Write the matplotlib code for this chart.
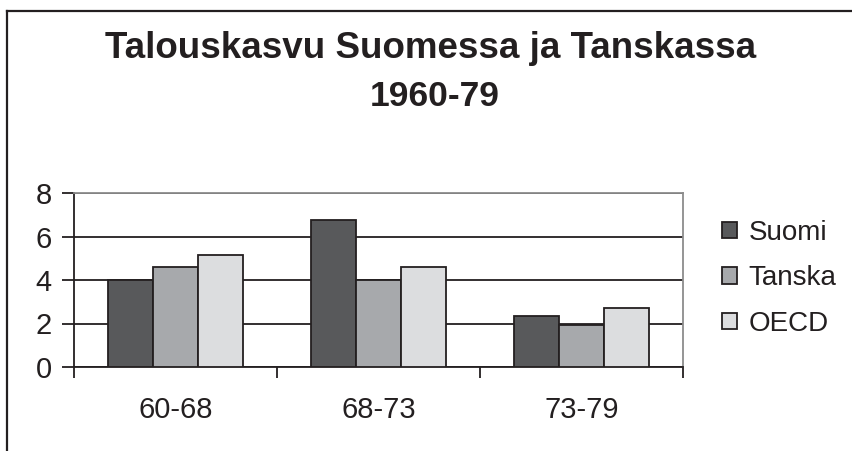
import numpy as np
import matplotlib
matplotlib.use("Agg")
import matplotlib.pyplot as plt
from matplotlib.lines import Line2D
from matplotlib.patches import Patch

plt.rcParams['font.family'] = ['Liberation Sans', 'DejaVu Sans']

# data
periods = ['60-68', '68-73', '73-79']
series = ['Suomi', 'Tanska', 'OECD']
suomi = [4.0, 6.75, 2.35]
tanska = [4.6, 4.0, 1.95]
oecd = [5.15, 4.6, 2.7]
colors = ['#58595b', '#a7a9ac', '#dcdddf']

values = [suomi, tanska, oecd]

fig = plt.figure(figsize=(8.52, 4.51), dpi=100)
W, H = 852, 451

# outer chart border (cropped: only left and top visible)
fig.add_artist(Line2D([6.5 / W, 6.5 / W], [0, 1 - 10.5 / H], color='#231f20', lw=1.6))
fig.add_artist(Line2D([6.5 / W, 1], [1 - 10.5 / H, 1 - 10.5 / H], color='#231f20', lw=1.6))

ax = fig.add_axes([74 / W, 84 / H, (683 - 74) / W, (367 - 193) / H])

x = np.arange(len(periods))
w = 0.223
for j, (name, vals) in enumerate(zip(series, values)):
    ax.bar(x + (j - 1) * w, vals, width=w, color=colors[j], edgecolor='#231f20',
           linewidth=1.3, label=name, zorder=3)

ax.set_xlim(-0.5, 2.5)
ax.set_ylim(0, 8)
ax.set_yticks([0, 2, 4, 6, 8])
ax.yaxis.grid(True, color='#231f20', linewidth=1.3, zorder=0)
ax.set_axisbelow(True)

ax.set_xticks(x)
ax.set_xticklabels(periods)
ax.set_xticks([-0.5, 0.5, 1.5, 2.5], minor=True)
ax.tick_params(axis='x', which='major', length=0, pad=21, labelsize=21, colors='#231f20')
ax.tick_params(axis='x', which='minor', length=8, width=1.3, color='#231f20', direction='out')
ax.tick_params(axis='y', length=9, width=1.3, color='#231f20', pad=7, labelsize=21,
               labelcolor='#231f20')

for s in ['left', 'bottom']:
    ax.spines[s].set_color('#231f20')
    ax.spines[s].set_linewidth(1.3)
for s in ['top', 'right']:
    ax.spines[s].set_color('#8c8c8c')
    ax.spines[s].set_linewidth(1.3)

handles = [Patch(facecolor=c, edgecolor='#231f20', linewidth=1.3) for c in colors]
fig.legend(handles, series, loc='upper left', bbox_to_anchor=(708 / W, 1 - 206 / H),
           frameon=False, fontsize=20, handlelength=0.55, handleheight=0.55,
           handletextpad=0.4, labelspacing=0.7, borderpad=0, labelcolor='#231f20')

fig.text(431 / W, 1 - 49 / H, 'Talouskasvu Suomessa ja Tanskassa', ha='center', va='center',
         fontsize=26.5, fontweight='bold', color='#231f20')
fig.text(435 / W, 1 - 97 / H, '1960-79', ha='center', va='center',
         fontsize=25.5, fontweight='bold', color='#231f20')

fig.savefig('out.png', dpi=100, facecolor='white')
